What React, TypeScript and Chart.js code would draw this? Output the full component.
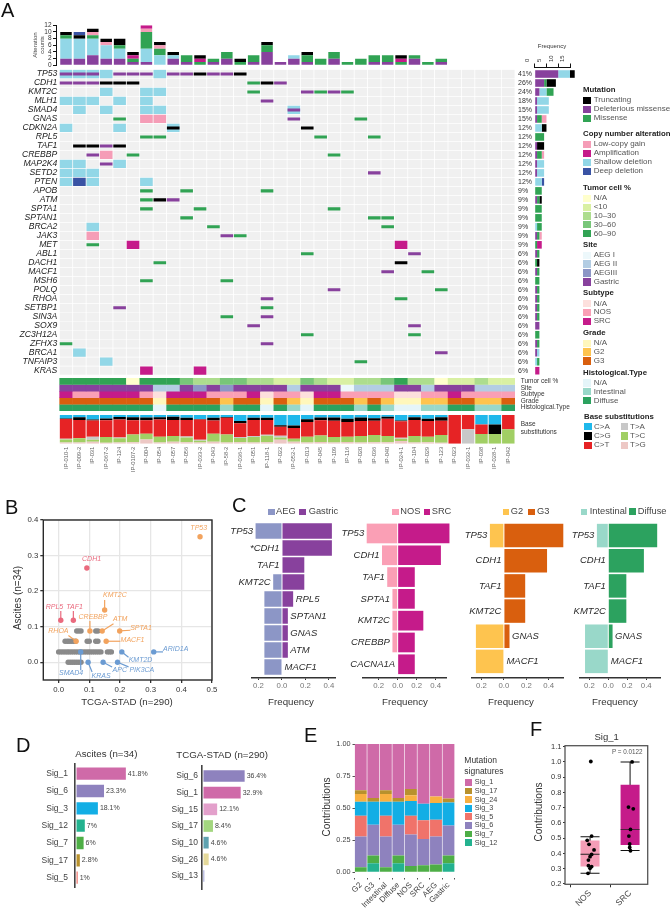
import React, { useEffect, useRef } from "react";
import { Chart, registerables } from "chart.js";

Chart.register(...registerables);

const SANS = '"Liberation Sans", Arial, sans-serif';
Chart.defaults.font.family = SANS;

/* ---------- Panel A data ---------- */
const SAMPLES = ["IP-010-1","IP-009-2","IP-031","IP-067-2","IP-124","IP-0107-2","IP-004","IP-054","IP-057","IP-056","IP-033-2","IP-043","IP-58-2","IP-036-1","IP-051","IP-118-1","IP-022","IP-052-1","IP-013","IP-045","IP-109","IP-116","IP-020","IP-036","IP-040","IP-024-1","IP-104","IP-029","IP-123","IP-023","IP-032-1","IP-038","IP-028-1","IP-042"];
const GENES = ["TP53","CDH1","KMT2C","MLH1","SMAD4","GNAS","CDKN2A","RPL5","TAF1","CREBBP","MAP2K4","SETD2","PTEN","APOB","ATM","SPTA1","SPTAN1","BRCA2","JAK3","MET","ABL1","DACH1","MACF1","MSH6","POLQ","RHOA","SETBP1","SIN3A","SOX9","ZC3H12A","ZFHX3","BRCA1","TNFAIP3","KRAS"];
const GENE_PCT = ["41%","26%","24%","18%","15%","15%","12%","12%","12%","12%","12%","12%","12%","9%","9%","9%","9%","9%","9%","9%","6%","6%","6%","6%","6%","6%","6%","6%","6%","6%","6%","6%","6%","6%"];

const TRUNCATING: Record<string, number[]> = { TP53:[10,13], CDH1:[3,4,5,15], CDKN2A:[8,18], TAF1:[1,2,4], ATM:[7], DACH1:[25] };
const DELETERIOUS: Record<string, number[]> = { TP53:[0,1,2,4,5,6,8,9,11,12], CDH1:[0,1,2,16], KMT2C:[18,20], MLH1:[15], SMAD4:[17], GNAS:[17], TAF1:[3], CREBBP:[2], MAP2K4:[3], SETD2:[23], ATM:[8], JAK3:[12], ABL1:[26], MACF1:[24], POLQ:[20], RHOA:[15], SETBP1:[4], SIN3A:[15], SOX9:[14,26], ZFHX3:[15], BRCA1:[28] };
const MISSENSE: Record<string, number[]> = { CDH1:[14], KMT2C:[14,19,21], GNAS:[4,22], RPL5:[6,7,19,23], CREBBP:[5,20], APOB:[6,9,15], ATM:[6], SPTA1:[6,10,20], SPTAN1:[9,23,24], BRCA2:[11,24], JAK3:[13], MET:[2], ABL1:[18], DACH1:[7], MACF1:[27], MSH6:[6,12], POLQ:[28], RHOA:[25], SETBP1:[15], SIN3A:[12], ZC3H12A:[18,26], ZFHX3:[0], TNFAIP3:[22] };
const SHALLOW: Record<string, number[]> = { TP53:[0,1,2,3,7], KMT2C:[3,6,7], MLH1:[0,1,2,4,6], SMAD4:[1,3,6,7,17], CDKN2A:[0,4,8], MAP2K4:[0,1,4], SETD2:[0,1,2], PTEN:[0,2,6], BRCA2:[2], BRCA1:[1], TNFAIP3:[3] };
const DEEP: Record<string, number[]> = { PTEN:[1] };
const LOW_GAIN: Record<string, number[]> = { GNAS:[6,7], CREBBP:[3], JAK3:[2] };
const AMPLIFICATION: Record<string, number[]> = { MET:[5,25], KRAS:[6,10] };

const TOP_DELETERIOUS = [2,2,3,2,2,1,1,0,2,1,0,1,2,0,1,4,1,2,1,0,2,0,0,1,1,0,2,0,1,0,0,0,0,0];
const TOP_SHALLOW = [6,6,5,4,3,0,4,3,1,0,0,0,0,0,0,0,0,1,0,0,0,0,0,0,0,0,0,0,0,0,0,0,0,0];
const TOP_MISSENSE = [1,0,1,0,1,1,5,2,0,2,1,1,2,1,2,2,0,0,2,2,2,1,2,2,2,1,1,1,1,0,0,0,0,0];
const TOP_LOW = [0,0,1,1,0,0,1,1,0,0,0,0,0,0,0,0,0,0,0,0,0,0,0,0,0,0,0,0,0,0,0,0,0,0];
const TOP_AMP = [0,0,0,0,0,1,1,0,0,0,1,0,0,0,0,0,0,0,0,0,0,0,0,0,0,1,0,0,0,0,0,0,0,0];
const TOP_TRUNC = [1,1,1,1,2,1,0,1,1,0,1,0,0,1,0,1,0,0,1,0,0,0,0,0,0,1,0,0,0,0,0,0,0,0];
const TOP_DEEP = [0,1,0,0,0,0,0,0,0,0,0,0,0,0,0,0,0,0,0,0,0,0,0,0,0,0,0,0,0,0,0,0,0,0];

const TRACK_NAMES = ["Tumor cell %","Site","Subtype","Grade","Histological.Type"];
const TUMOR = [4,4,4,4,4,0,4,4,4,3,2,2,3,3,2,2,1,1,3,2,1,1,2,2,3,4,2,2,0,1,1,2,1,1];
const SITE = [3,3,3,3,3,3,3,1,1,3,2,3,2,3,3,3,3,1,3,3,3,0,1,1,1,3,3,1,3,3,3,1,1,1];
const SUBTYPE = [2,1,1,2,2,2,1,0,2,2,2,1,1,1,2,0,1,1,0,2,2,1,1,1,1,0,0,1,1,2,1,1,1,1];
const GRADE = [2,2,2,2,2,2,2,0,2,2,2,2,1,2,2,0,2,1,0,2,2,2,1,2,1,0,0,1,1,2,2,1,1,2];
const HIST = [2,2,2,2,2,2,2,0,2,2,2,2,1,2,2,0,2,1,0,2,2,2,1,2,1,0,0,1,1,2,2,1,1,2];

const SUB_CA = [12,8,16,12,7,8,9,8,6,10,14,10,7,21,10,10,36,37,15,9,9,13,9,11,6,19,8,13,8,0,0,33,33,0];
const SUB_CG = [2,9,3,6,9,10,9,8,11,7,2,9,3,8,7,7,5,8,9,9,11,11,12,9,7,3,9,8,12,0,0,0,33,0];
const SUB_CT = [69,64,57,59,62,50,47,60,56,58,70,46,58,48,56,52,31,38,52,53,57,52,52,50,60,57,56,55,50,100,50,33,0,50];
const SUB_TA = [2,0,10,0,3,0,0,0,0,3,4,0,0,3,4,3,6,0,0,0,0,0,0,0,0,4,0,0,0,0,50,0,0,0];
const SUB_TC = [11,15,7,20,15,27,20,20,20,17,6,28,28,15,19,23,8,10,20,23,19,18,23,25,22,8,23,19,27,0,0,34,34,50];
const SUB_TG = [4,4,7,3,4,5,15,4,7,5,4,7,4,5,4,5,14,7,4,6,4,6,4,5,5,9,4,5,3,0,0,0,0,0];

/* ---------- Panel B data ---------- */
const GRAY_X = [0.059,0.066,0.073,0.121,0.128,0.021,0.028,0.034,0.041,0.048,0.055,0.093,0.1,0.121,0.128,0,0.007,0.014,0.021,0.028,0.034,0.041,0.048,0.055,0.062,0.069,0.076,0.083,0.09,0.097,0.103,0.11,0.117,0.124,0.131,0.138,0.159,0.166,0.172,0.031,0.038,0.045,0.052,0.059,0.066,0.073];
const GRAY_Y = [0.088,0.088,0.088,0.088,0.088,0.059,0.059,0.059,0.059,0.059,0.059,0.059,0.059,0.059,0.059,0.029,0.029,0.029,0.029,0.029,0.029,0.029,0.029,0.029,0.029,0.029,0.029,0.029,0.029,0.029,0.029,0.029,0.029,0.029,0.029,0.029,0.029,0.029,0.029,0,0,0,0,0,0,0];
const ORANGE_NAMES = ["TP53","KMT2C","CREBBP","ATM","SPTA1","RHOA","MACF1"];
const ORANGE_X = [0.461,0.15,0.102,0.142,0.199,0.057,0.155];
const ORANGE_Y = [0.353,0.147,0.088,0.088,0.088,0.059,0.059];
const PINK_NAMES = ["CDH1","RPL5","TAF1"];
const PINK_X = [0.092,0.007,0.048];
const PINK_Y = [0.265,0.118,0.118];
const BLUE_NAMES = ["ARID1A","KMT2D","SMAD4","KRAS","APC","PIK3CA"];
const BLUE_X = [0.31,0.206,0.072,0.096,0.145,0.192];
const BLUE_Y = [0.029,0.029,0.029,0,0,0];
// label placement, px from the point: text dx, text dy, leader dx, leader dy
const LABEL_OFFSETS: Record<string, number[]> = {
  TP53:[-1.3,-9,0,0], CDH1:[4.7,-8.7,0,0], KMT2C:[10.3,-14.7,0,-10], RPL5:[-6.3,-13.3,0,-9.3], TAF1:[1.3,-13.3,0,-9.3],
  CREBBP:[3,-14,0,-10], ATM:[18,-11.7,11.3,-7.3], SPTA1:[21.3,-3,10.7,-0.7], RHOA:[-17.7,-10,-7.7,-5.7], MACF1:[26.3,-1,14,0],
  ARID1A:[22,-2.7,9.3,0], KMT2D:[18.7,8,6.7,5.3], SMAD4:[-9.7,21,0,18.3], KRAS:[13,13.7,4,9.7], APC:[16.7,7.7,9,4.7], PIK3CA:[24.3,7.7,11,4.7],
};

/* ---------- Panel C data ---------- */
const C1_GENES = ["TP53","*CDH1","TAF1","KMT2C","RPL5","SPTAN1","GNAS","ATM","MACF1"];
const C1_AEG = [-0.225,0,0,-0.075,-0.15,-0.15,-0.15,-0.15,-0.15];
const C1_GASTRIC = [0.425,0.425,0.19,0.19,0.095,0.05,0.05,0.05,0];
const C1_SIDES = ["L","L","L","L","R","R","R","R","R"];
const C2_GENES = ["TP53","CDH1","TAF1","SPTA1","KMT2C","CREBBP","CACNA1A"];
const C2_NOS = [-0.326,-0.165,-0.11,-0.055,-0.055,-0.055,0];
const C2_SRC = [0.545,0.455,0.18,0.18,0.27,0.18,0.18];
const C2_SIDES = ["L","L","L","L","L","L","L"];
const C3_GENES = ["TP53","CDH1","TAF1","KMT2C","GNAS","MACF1"];
const C3_G2 = [-0.125,0,0,0,-0.25,-0.25];
const C3_G3 = [0.53,0.385,0.19,0.19,0.05,0];
const C3_SIDES = ["L","L","L","L","R","R"];
const C4_GENES = ["TP53","CDH1","TAF1","KMT2C","GNAS","MACF1"];
const C4_INTESTINAL = [-0.12,0,0,0,-0.245,-0.245];
const C4_DIFFUSE = [0.515,0.375,0.19,0.19,0.045,0];
const C4_SIDES = ["L","L","L","L","R","R"];

/* ---------- Panel D data ---------- */
const D1_SIGS = ["Sig_1","Sig_6","Sig_3","Sig_12","Sig_7","Sig_17","Sig_5"];
const D1_VALUES = [41.8,23.3,18.1,7,6,2.8,1];
const D1_TEXT = ["41.8%","23.3%","18.1%","7%","6%","2.8%","1%"];
const D2_SIGS = ["Sig_6","Sig_1","Sig_15","Sig_17","Sig_10","Sig_26","Sig_13"];
const D2_VALUES = [36.4,32.9,12.1,8.4,4.6,4.6,0.7];
const D2_TEXT = ["36.4%","32.9%","12.1%","8.4%","4.6%","4.6%",""];

/* ---------- Panel E data ---------- */
const E_GROUPS = ["G2","G3","Intestinal","Diffuse","NOS","SRC","AEG","Gastric"];
const E_SIG_12 = [0,0.07,0,0.07,0,0,0,0.07];
const E_SIG_7 = [0.04,0.06,0.04,0.06,0.05,0.055,0.06,0.06];
const E_SIG_6 = [0.24,0.24,0.24,0.24,0.245,0.205,0.22,0.235];
const E_SIG_5 = [0.16,0,0.16,0,0.145,0.145,0.13,0];
const E_SIG_3 = [0.11,0.18,0.11,0.18,0.115,0.13,0.13,0.18];
const E_SIG_24 = [0.06,0,0.06,0,0.045,0,0.05,0];
const E_SIG_17 = [0.03,0.03,0.03,0.03,0.05,0,0,0.03];
const E_SIG_1 = [0.36,0.42,0.36,0.42,0.35,0.465,0.41,0.425];

/* ---------- Panel F data ---------- */
const F_GROUPS = ["NOS","SRC"];
const F_BOX = [[0.315,0.485],[0.455,0.85]];
const F_WHISKER = [[0.27,0.51],[0.42,1.0]];
const F_MEDIAN = [0.395,0.558];
const F_NOS_X = [1.04,0.93,0.975,1.1,1.04,1.0,0.96,0.96,1.04,1.0,0.95,1.02];
const F_NOS_Y = [0.514,0.486,0.46,0.423,0.394,0.379,0.357,0.32,0.314,0.303,0.27,1.003];
const F_SRC_X = [2.05,1.96,2.08,2.01,1.97,1.99,1.99,2.01];
const F_SRC_Y = [1.0,0.704,0.693,0.558,0.514,0.462,0.44,0.418];

/* ---------- Colours ---------- */
const COL = { trunc:"#000000", del:"#88419d", mis:"#31a354", low:"#f59db7", amp:"#c51b8a", shallow:"#92d7e7", deep:"#3953a4" };
const TUMOR_COLORS = ["#ffffcc","#d9f0a3","#addd8e","#78c679","#31a354"];
const SITE_COLORS = ["#edf8fb","#b3cde3","#8c96c6","#88419d"];
const SUBTYPE_COLORS = ["#fde0dd","#fa9fb5","#c51b8a"];
const GRADE_COLORS = ["#fff7bc","#fec44f","#d95f0e"];
const HIST_COLORS = ["#e5f5f9","#99d8c9","#2ca25f"];
const SUB_COLORS = { ca:"#1fb8eb", cg:"#000000", ct:"#e62325", ta:"#c8c8c8", tc:"#a1cf64", tg:"#edc8c5" };
const SIG = { s1:"#cf6aa8", s6:"#8e82be", s3:"#12aee5", s12:"#23b28f", s7:"#4eae46", s17:"#b8912d", s5:"#f0736a", s24:"#f9b040", s15:"#e3a0cb", s17b:"#a3d67f", s10:"#5fa2b0", s26:"#e5d99a", s13:"#8a8fcc" };

/* ---------- Helpers ---------- */
// the chart area is given in page pixels; l/r/t/b are the room kept for the axes on each side
const frame = (x0: number, y0: number, x1: number, y1: number, m: { l?: number; r?: number; t?: number; b?: number } = {}) => ({
  padding: { left: x0 - (m.l || 0), top: y0 - (m.t || 0), right: 670 - x1 - (m.r || 0), bottom: 912 - y1 - (m.b || 0) },
});
const fit = (size: number) => (s: any) => { if (s.isHorizontal()) s.height = size; else s.width = size; };
const fixedTicks = (vals: number[]) => (s: any) => { s.ticks = vals.map((value) => ({ value })); };
const baseOpts = (layout: any, scales: any) => ({
  responsive: false, animation: false as const, events: [] as any[], layout, scales,
  plugins: { legend: { display: false }, tooltip: { enabled: false } },
});
const NO_GRID = { display: false, drawTicks: false };
const COL_IDX = SAMPLES.map((_, i) => i);
const ROW_IDX = GENES.map((_, i) => i);
const cells = (o: Record<string, number[]>) => Object.keys(o).flatMap((g) => o[g].map((c) => ({ y: g, x: [c + 0.03, c + 0.97] })));
const tally = (o: Record<string, number[]>) => GENES.map((g) => (o[g] ? o[g].length : 0));

const framePlugin = (color: string, w: number) => ({
  id: "frame",
  afterDatasetsDraw(c: any) {
    const { left, right, top, bottom } = c.chartArea;
    c.ctx.save(); c.ctx.strokeStyle = color; c.ctx.lineWidth = w;
    c.ctx.strokeRect(left, top, right - left, bottom - top); c.ctx.restore();
  },
});

const geneLabelPlugin = (genes: string[], sides: string[], neg: number[], pos: number[]) => ({
  id: "geneLabels",
  afterDatasetsDraw(c: any) {
    const { ctx } = c; const x = c.scales.x; const y = c.scales.y;
    ctx.save(); ctx.font = `italic 9.5px ${SANS}`; ctx.fillStyle = "#2b2b2b"; ctx.textBaseline = "middle";
    genes.forEach((g, i) => {
      const left = sides[i] === "L";
      ctx.textAlign = left ? "right" : "left";
      ctx.fillText(g, x.getPixelForValue(left ? neg[i] : pos[i]) + (left ? -2.5 : 2.5), y.getPixelForValue(i));
    });
    ctx.restore();
  },
});

const valueLabelPlugin = (vals: number[], texts: string[]) => ({
  id: "valueLabels",
  afterDatasetsDraw(c: any) {
    const { ctx } = c; ctx.save(); ctx.font = `7px ${SANS}`; ctx.fillStyle = "#444"; ctx.textBaseline = "middle"; ctx.textAlign = "left";
    texts.forEach((t, i) => ctx.fillText(t, c.scales.x.getPixelForValue(vals[i]) + 2, c.scales.y.getPixelForValue(i)));
    ctx.restore();
  },
});

const scatterLabelPlugin = (groups: { names: string[]; xs: number[]; ys: number[]; color: string }[]) => ({
  id: "scatterLabels",
  afterDatasetsDraw(c: any) {
    const { ctx } = c; ctx.save(); ctx.font = `italic 7px ${SANS}`; ctx.textAlign = "center"; ctx.textBaseline = "middle";
    groups.forEach((g) => g.names.forEach((n, i) => {
      const px = c.scales.x.getPixelForValue(g.xs[i]); const py = c.scales.y.getPixelForValue(g.ys[i]);
      const [tx, ty, lx, ly] = LABEL_OFFSETS[n];
      ctx.strokeStyle = g.color; ctx.fillStyle = g.color; ctx.lineWidth = 1.2;
      if (lx || ly) { ctx.beginPath(); ctx.moveTo(px, py); ctx.lineTo(px + lx, py + ly); ctx.stroke(); }
      ctx.fillText(n, px + tx, py + ty);
    }));
    ctx.restore();
  },
});

/* ---------- Charts ---------- */
function oncoprint() {
  const bg = GENES.flatMap((g) => COL_IDX.map((c) => ({ y: g, x: [c + 0.03, c + 0.97] })));
  const ds = (data: any[], color: string, order: number, bp: number) => ({ data, backgroundColor: color, order, barPercentage: bp, categoryPercentage: 1, grouped: false, inflateAmount: 0, borderWidth: 0 });
  return {
    type: "bar",
    data: { labels: GENES, datasets: [
      ds(cells(TRUNCATING), COL.trunc, 1, 0.34), ds(cells(DELETERIOUS), COL.del, 1, 0.34), ds(cells(MISSENSE), COL.mis, 1, 0.34),
      ds(cells(LOW_GAIN), COL.low, 2, 0.92), ds(cells(AMPLIFICATION), COL.amp, 2, 0.92), ds(cells(SHALLOW), COL.shallow, 2, 0.92), ds(cells(DEEP), COL.deep, 2, 0.92),
      ds(bg, "#f0f0f0", 3, 0.92),
    ] },
    options: { indexAxis: "y", ...baseOpts(frame(59.3, 69.5, 515, 375.2, { l: 55, r: 30 }), {
      x: { type: "linear", min: 0, max: 34, display: false },
      y: { type: "category", offset: true, afterFit: fit(55), border: { display: false }, grid: NO_GRID,
        ticks: { autoSkip: false, padding: 2, color: "#222", font: { size: 8.6, style: "italic", family: SANS } } },
      yR: { type: "category", labels: GENE_PCT, position: "right", offset: true, afterFit: fit(30), border: { display: false }, grid: NO_GRID,
        ticks: { autoSkip: false, padding: 3, color: "#333", font: { size: 7, family: SANS } } },
    }) },
  };
}

function topBars() {
  const ds = (data: number[], color: string) => ({ data, backgroundColor: color, barThickness: 11.5, inflateAmount: 0 });
  return {
    type: "bar",
    data: { labels: COL_IDX, datasets: [ds(TOP_DELETERIOUS, COL.del), ds(TOP_SHALLOW, COL.shallow), ds(TOP_MISSENSE, COL.mis), ds(TOP_LOW, COL.low), ds(TOP_AMP, COL.amp), ds(TOP_TRUNC, COL.trunc), ds(TOP_DEEP, COL.deep)] },
    options: baseOpts(frame(56, 25.3, 515, 65.3, { l: 20 }), {
      x: { type: "linear", offset: false, min: -0.746, max: 33.5, stacked: true, display: false },
      y: { type: "linear", min: 0, max: 12, stacked: true, afterFit: fit(20), afterBuildTicks: fixedTicks([0,2,4,6,8,10,12]),
        border: { display: true, color: "#111", width: 1 }, grid: { drawOnChartArea: false, tickLength: 3, color: "#111" },
        ticks: { autoSkip: false, padding: 1.5, color: "#333", font: { size: 6.5, family: SANS } } },
    }),
  };
}

function freqBars() {
  const ds = (o: Record<string, number[]>, color: string) => ({ data: tally(o), backgroundColor: color, barThickness: 7.6, clip: false, inflateAmount: 0 });
  return {
    type: "bar",
    data: { labels: ROW_IDX, datasets: [ds(DELETERIOUS, COL.del), ds(SHALLOW, COL.shallow), ds(DEEP, COL.deep), ds(MISSENSE, COL.mis), ds(LOW_GAIN, COL.low), ds(AMPLIFICATION, COL.amp), ds(TRUNCATING, COL.trunc)] },
    options: { indexAxis: "y", ...baseOpts(frame(534.7, 67.5, 570, 375.2, { t: 20 }), {
      x: { type: "linear", position: "top", min: 0, max: 15, stacked: true, afterFit: fit(20), afterBuildTicks: fixedTicks([0,5,10,15]),
        border: { display: true, color: "#111", width: 1 }, grid: { drawOnChartArea: false, tickLength: 4, color: "#111" },
        ticks: { autoSkip: false, padding: 1.5, minRotation: 90, maxRotation: 90, color: "#333", font: { size: 6, family: SANS } } },
      y: { type: "linear", offset: false, reverse: true, min: -0.725, max: 33.5, stacked: true, display: false },
    }) },
  };
}

function tracks() {
  const ds = (g: string, vals: number[], pal: string[]) => ({
    data: vals.map((v, c) => ({ y: g, x: [c, c + 1] })), backgroundColor: vals.map((v) => pal[v]),
    barPercentage: 1, categoryPercentage: 1, grouped: false, inflateAmount: 0.2,
  });
  return {
    type: "bar",
    data: { labels: TRACK_NAMES, datasets: [ds(TRACK_NAMES[0], TUMOR, TUMOR_COLORS), ds(TRACK_NAMES[1], SITE, SITE_COLORS), ds(TRACK_NAMES[2], SUBTYPE, SUBTYPE_COLORS), ds(TRACK_NAMES[3], GRADE, GRADE_COLORS), ds(TRACK_NAMES[4], HIST, HIST_COLORS)] },
    options: { indexAxis: "y", ...baseOpts(frame(59.3, 378, 515, 411, { r: 66 }), {
      x: { type: "linear", min: 0, max: 34, display: false },
      y: { type: "category", position: "right", offset: true, afterFit: fit(66), border: { display: false }, grid: NO_GRID,
        ticks: { autoSkip: false, padding: 5.7, color: "#333", font: { size: 6.5, family: SANS } } },
    }) },
  };
}

function baseSubs() {
  const ds = (data: number[], color: string) => ({ data, backgroundColor: color, barPercentage: 0.93, categoryPercentage: 1, inflateAmount: 0 });
  return {
    type: "bar",
    data: { labels: SAMPLES, datasets: [ds(SUB_TG, SUB_COLORS.tg), ds(SUB_TC, SUB_COLORS.tc), ds(SUB_TA, SUB_COLORS.ta), ds(SUB_CT, SUB_COLORS.ct), ds(SUB_CG, SUB_COLORS.cg), ds(SUB_CA, SUB_COLORS.ca)] },
    options: baseOpts(frame(59.3, 415, 515, 443.7, { b: 40 }), {
      x: { type: "category", offset: true, stacked: true, afterFit: fit(40), border: { display: false }, grid: NO_GRID,
        ticks: { autoSkip: false, padding: 3, minRotation: 90, maxRotation: 90, color: "#666", font: { size: 5.8, family: SANS } } },
      y: { type: "linear", min: 0, max: 100, stacked: true, display: false },
    }),
  };
}

function scatterB() {
  const ds = (xs: number[], ys: number[], color: string, order: number) => ({
    data: xs.map((x, i) => ({ x, y: ys[i] })), backgroundColor: color, pointRadius: 2.7, pointBorderWidth: 0, order,
  });
  const grid = { color: "#e6e6e6", lineWidth: 1.3, tickLength: 3, tickColor: "#333" };
  return {
    type: "scatter",
    data: { datasets: [ds(ORANGE_X, ORANGE_Y, "#f2a35e", 0), ds(PINK_X, PINK_Y, "#ea6a7e", 0), ds(BLUE_X, BLUE_Y, "#6b9bd2", 0), ds(GRAY_X, GRAY_Y, "#8a8a8a", 2)] },
    options: baseOpts(frame(43.3, 520, 212, 680, { l: 26, b: 16 }), {
      x: { type: "linear", min: -0.05, max: 0.5, afterFit: fit(16), afterBuildTicks: fixedTicks([0,0.1,0.2,0.3,0.4,0.5]), grid, border: { display: false },
        ticks: { autoSkip: false, padding: 2, minRotation: 0, maxRotation: 0, color: "#333", font: { size: 7.8, family: SANS }, callback: (v: number) => v.toFixed(1) } },
      y: { type: "linear", min: -0.05, max: 0.4, afterFit: fit(26), afterBuildTicks: fixedTicks([0,0.1,0.2,0.3,0.4]), grid, border: { display: false },
        ticks: { autoSkip: false, padding: 2, color: "#333", font: { size: 7.8, family: SANS }, callback: (v: number) => v.toFixed(1) } },
    }),
    plugins: [framePlugin("#2a2a2a", 1.4), scatterLabelPlugin([
      { names: ORANGE_NAMES, xs: ORANGE_X, ys: ORANGE_Y, color: "#f2a35e" },
      { names: PINK_NAMES, xs: PINK_X, ys: PINK_Y, color: "#ea6a7e" },
      { names: BLUE_NAMES, xs: BLUE_X, ys: BLUE_Y, color: "#6b9bd2" },
    ])],
  };
}

function diverging(x0: number, x1: number, xMin: number, xMax: number, yMin: number, yMax: number, thick: number, genes: string[], sides: string[], neg: number[], pos: number[], cNeg: string, cPos: string) {
  return {
    type: "bar",
    data: { labels: genes.map((_, i) => i), datasets: [
      { data: neg, backgroundColor: cNeg, barThickness: thick, inflateAmount: 0, clip: false },
      { data: pos, backgroundColor: cPos, barThickness: thick, inflateAmount: 0, clip: false },
    ] },
    options: { indexAxis: "y", ...baseOpts(frame(x0, 523, x1, 678, { b: 16 }), {
      x: { type: "linear", min: xMin, max: xMax, stacked: true, afterFit: fit(16), afterBuildTicks: fixedTicks([-0.2,0,0.2,0.4]),
        border: { display: true, color: "#333", width: 1.5 }, grid: { drawOnChartArea: false, tickLength: 2, color: "#333" },
        ticks: { autoSkip: false, padding: 1.5, minRotation: 0, maxRotation: 0, color: "#777", font: { size: 7.8, family: SANS }, callback: (v: number) => Math.abs(v).toFixed(1) } },
      y: { type: "linear", offset: false, reverse: true, min: yMin, max: yMax, stacked: true, display: false },
    }) },
    plugins: [geneLabelPlugin(genes, sides, neg, pos)],
  };
}

function sigBars(x0: number, x1: number, y0: number, y1: number, xMin: number, xMax: number, yMin: number, yMax: number, thick: number, pad: number, names: string[], vals: number[], texts: string[], colors: string[]) {
  return {
    type: "bar",
    data: { labels: names.map((_, i) => i), datasets: [{ data: vals, backgroundColor: colors, barThickness: thick, inflateAmount: 0 }] },
    options: { indexAxis: "y", ...baseOpts(frame(x0, y0, x1, y1, { l: 36 }), {
      x: { type: "linear", min: xMin, max: xMax, display: false },
      y: { type: "linear", offset: false, reverse: true, min: yMin, max: yMax, afterFit: fit(36), afterBuildTicks: fixedTicks(names.map((_, i) => i)),
        border: { display: true, color: "#444", width: 1.6 }, grid: NO_GRID,
        ticks: { autoSkip: false, padding: pad, color: "#444", font: { size: 8.5, family: SANS }, callback: (v: number) => names[v] } },
    }) },
    plugins: [valueLabelPlugin(vals, texts)],
  };
}

function stackE() {
  const ds = (data: number[], color: string) => ({ data, backgroundColor: color, barPercentage: 0.95, categoryPercentage: 1, inflateAmount: 0 });
  return {
    type: "bar",
    data: { labels: E_GROUPS, datasets: [ds(E_SIG_12, SIG.s12), ds(E_SIG_7, SIG.s7), ds(E_SIG_6, SIG.s6), ds(E_SIG_5, SIG.s5), ds(E_SIG_3, SIG.s3), ds(E_SIG_24, SIG.s24), ds(E_SIG_17, SIG.s17), ds(E_SIG_1, SIG.s1)] },
    options: baseOpts(frame(354.5, 744, 454.8, 877.5, { l: 22, b: 34 }), {
      x: { type: "category", offset: true, stacked: true, afterFit: fit(34), border: { display: false }, grid: { drawOnChartArea: false, tickLength: 2, color: "#555" },
        ticks: { autoSkip: false, padding: 1, minRotation: 45, maxRotation: 45, color: "#444", font: { size: 8, family: SANS } } },
      y: { type: "linear", min: -0.0405, max: 1, stacked: true, afterFit: fit(22), afterBuildTicks: fixedTicks([0,0.25,0.5,0.75,1]), border: { display: false }, grid: { drawOnChartArea: false, tickLength: 2, color: "#555" },
        ticks: { autoSkip: false, padding: 2, color: "#444", font: { size: 7.3, family: SANS }, callback: (v: number) => v.toFixed(2) } },
    }),
  };
}

function boxF() {
  const bar = (data: any[], color: string, thick: number, order: number) => ({ data, backgroundColor: color, barThickness: thick, order, grouped: false, inflateAmount: 0 });
  const w = 0.003;
  return {
    type: "bar",
    data: { labels: [1, 2], datasets: [
      { type: "scatter", data: F_NOS_X.map((x, i) => ({ x, y: F_NOS_Y[i] })), backgroundColor: "#000", pointRadius: 1.9, pointBorderWidth: 0, order: 0 },
      { type: "scatter", data: F_SRC_X.map((x, i) => ({ x, y: F_SRC_Y[i] })), backgroundColor: "#000", pointRadius: 1.9, pointBorderWidth: 0, order: 0 },
      bar(F_MEDIAN.map((m) => [m - w, m + w]), "#222", 19, 1),
      bar(F_WHISKER.map((v) => [v[0] - w, v[0] + w]), "#111", 19, 2),
      bar(F_WHISKER.map((v) => [v[1] - w, v[1] + w]), "#111", 19, 2),
      { ...bar(F_BOX, "#f59db7", 19, 3), backgroundColor: ["#f59db7", "#c51b8a"] },
      bar(F_WHISKER, "#111", 1, 4),
    ] },
    options: baseOpts(frame(565, 745.7, 647.7, 884.3, { l: 18, b: 28 }), {
      x: { type: "linear", offset: false, min: 0.375, max: 2.44, afterFit: fit(28), afterBuildTicks: fixedTicks([1,2]), border: { display: false }, grid: { drawOnChartArea: false, tickLength: 3, color: "#333" },
        ticks: { autoSkip: false, padding: 1, minRotation: 45, maxRotation: 45, color: "#444", font: { size: 8.5, family: SANS }, callback: (v: number) => F_GROUPS[v - 1] } },
      y: { type: "linear", min: 0.198, max: 1.1065, afterFit: fit(18), afterBuildTicks: fixedTicks([0.2,0.3,0.4,0.5,0.6,0.7,0.8,0.9,1.0,1.1]), border: { display: false }, grid: { drawOnChartArea: false, tickLength: 2, color: "#333" },
        ticks: { autoSkip: false, padding: 1.5, color: "#333", font: { size: 7.5, family: SANS }, callback: (v: number) => v.toFixed(1) } },
    }),
    plugins: [framePlugin("#555", 1.3)],
  };
}

const CONFIGS: (() => any)[] = [
  oncoprint, topBars, freqBars, tracks, baseSubs, scatterB,
  () => diverging(251.7, 336, -0.258, 0.46, -0.47, 8.647, 15.5, C1_GENES, C1_SIDES, C1_AEG, C1_GASTRIC, "#8c96c6", "#88419d"),
  () => diverging(362.7, 446.7, -0.368, 0.516, -0.48, 6.63, 19.7, C2_GENES, C2_SIDES, C2_NOS, C2_SRC, "#fa9fb5", "#c51b8a"),
  () => diverging(471.3, 563.3, -0.291, 0.53, -0.5, 5.66, 23.5, C3_GENES, C3_SIDES, C3_G2, C3_G3, "#fec44f", "#d95f0e"),
  () => diverging(580, 660.7, -0.298, 0.552, -0.5, 5.66, 23.5, C4_GENES, C4_SIDES, C4_INTESTINAL, C4_DIFFUSE, "#99d8c9", "#2ca25f"),
  () => sigBars(75, 140, 763.3, 887.7, -1.3, 53.8, -0.6, 6.58, 12.3, 7, D1_SIGS, D1_VALUES, D1_TEXT, [SIG.s1, SIG.s6, SIG.s3, SIG.s12, SIG.s7, SIG.s17, SIG.s5]),
  () => sigBars(202, 290, 766, 889, -1.3, 76.5, -0.6, 6.78, 11.7, 4, D2_SIGS, D2_VALUES, D2_TEXT, [SIG.s6, SIG.s1, SIG.s15, SIG.s17b, SIG.s10, SIG.s26, SIG.s13]),
  stackE, boxF,
];

/* ---------- Text and legends ---------- */
type TProps = { x: number; y: number; s: number; t: string; c?: string; b?: boolean; i?: boolean; r?: number; mid?: boolean };
function T({ x, y, s, t, c = "#333", b, i, r, mid }: TProps) {
  return (
    <span style={{ position: "absolute", left: x, top: y, fontFamily: SANS, fontSize: s, color: c, fontWeight: b ? 700 : 400, fontStyle: i ? "italic" : "normal", whiteSpace: "nowrap", lineHeight: 1, transform: `translate(${mid ? "-50%" : "0"},-50%)${r ? ` rotate(${r}deg)` : ""}` }}>{t}</span>
  );
}
function Sq({ x, y, s = 7.3, c }: { x: number; y: number; s?: number; c: string }) {
  return <div style={{ position: "absolute", left: x, top: y - s / 2, width: s, height: s, background: c }} />;
}

const LEGEND_A: [string, number, [string, string, number][]][] = [
  ["Mutation", 89.7, [["Truncating", COL.trunc, 100.3], ["Deleterious missense", COL.del, 109.3], ["Missense", COL.mis, 118.3]]],
  ["Copy number alteration", 134, [["Low-copy gain", COL.low, 144.3], ["Amplification", COL.amp, 153.3], ["Shallow deletion", COL.shallow, 162.3], ["Deep deletion", COL.deep, 171.3]]],
  ["Tumor cell %", 188, [["N/A", TUMOR_COLORS[0], 198.3], ["<10", TUMOR_COLORS[1], 207.3], ["10–30", TUMOR_COLORS[2], 216], ["30–60", TUMOR_COLORS[3], 224.7], ["60–90", TUMOR_COLORS[4], 233.7]]],
  ["Site", 245, [["AEG I", SITE_COLORS[0], 255.3], ["AEG II", SITE_COLORS[1], 264], ["AEGIII", SITE_COLORS[2], 273], ["Gastric", SITE_COLORS[3], 282]]],
  ["Subtype", 293.3, [["N/A", SUBTYPE_COLORS[0], 303.7], ["NOS", SUBTYPE_COLORS[1], 312.3], ["SRC", SUBTYPE_COLORS[2], 321.3]]],
  ["Grade", 333, [["N/A", GRADE_COLORS[0], 343.3], ["G2", GRADE_COLORS[1], 352], ["G3", GRADE_COLORS[2], 361]]],
  ["Histological.Type", 372.7, [["N/A", HIST_COLORS[0], 383], ["Intestinal", HIST_COLORS[1], 391.7], ["Diffuse", HIST_COLORS[2], 400.7]]],
];
const LEGEND_SUBS: [string, string, number, number, number][] = [
  ["C>A", SUB_COLORS.ca, 584.3, 594, 426.7], ["C>G", SUB_COLORS.cg, 584.3, 594, 436], ["C>T", SUB_COLORS.ct, 584.3, 594, 445.3],
  ["T>A", SUB_COLORS.ta, 620.7, 630, 426.7], ["T>C", SUB_COLORS.tc, 620.7, 630, 436], ["T>G", SUB_COLORS.tg, 620.7, 630, 445.3],
];
const LEGEND_C: [string, string, number, number, number][] = [
  ["AEG", "#8c96c6", 268, 276, 512], ["Gastric", "#88419d", 299.3, 308.7, 512],
  ["NOS", "#fa9fb5", 392.3, 400.3, 512], ["SRC", "#c51b8a", 423.7, 431.7, 512],
  ["G2", "#fec44f", 502.7, 510.7, 512], ["G3", "#d95f0e", 528.3, 537, 512],
  ["Intestinal", "#99d8c9", 580.7, 589.7, 512], ["Diffuse", "#2ca25f", 629.3, 637.7, 511.7],
];
const LEGEND_E: [string, string][] = [["Sig_1", SIG.s1], ["Sig_17", SIG.s17], ["Sig_24", SIG.s24], ["Sig_3", SIG.s3], ["Sig_5", SIG.s5], ["Sig_6", SIG.s6], ["Sig_7", SIG.s7], ["Sig_12", SIG.s12]];

export default function App() {
  const refs = useRef<(HTMLCanvasElement | null)[]>([]);
  useEffect(() => {
    const charts = CONFIGS.map((make, i) => new Chart(refs.current[i] as HTMLCanvasElement, make()));
    return () => charts.forEach((c) => c.destroy());
  }, []);
  return (
    <div style={{ position: "absolute", left: 0, top: 0, width: 670, height: 912, overflow: "hidden", background: "#fff" }}>
      {CONFIGS.map((_, i) => (
        <canvas key={i} ref={(el) => { refs.current[i] = el; }} width={670} height={912} style={{ position: "absolute", left: 0, top: 0, width: 670, height: 912 }} />
      ))}

      <T x={1} y={10} s={20} t="A" c="#111" />
      <T x={5} y={506.5} s={20} t="B" c="#111" />
      <T x={232} y={505} s={20} t="C" c="#111" />
      <T x={16} y={745} s={20} t="D" c="#111" />
      <T x={304} y={734.5} s={20} t="E" c="#111" />
      <T x={530} y={729} s={20} t="F" c="#111" />

      <T x={35} y={45} s={6} t="Alteration" c="#444" r={-90} mid />
      <T x={42} y={45} s={6} t="counts" c="#444" r={-90} mid />
      <T x={552} y={45.5} s={6} t="Frequency" c="#333" mid />
      <T x={520.7} y={423.5} s={6.5} t="Base" />
      <T x={520.7} y={431.5} s={6.5} t="substitutions" />

      {LEGEND_A.map(([title, y, items]) => (
        <React.Fragment key={title}>
          <T x={583} y={y} s={7.8} t={title} b c="#222" />
          {items.map(([t, c, iy]) => (
            <React.Fragment key={title + t}>
              <Sq x={583.3} y={iy} c={c} />
              <T x={593.7} y={iy} s={8} t={t} c="#555" />
            </React.Fragment>
          ))}
        </React.Fragment>
      ))}
      <T x={584} y={417.3} s={7.8} t="Base substitutions" b c="#222" />
      {LEGEND_SUBS.map(([t, c, sx, tx, y]) => (
        <React.Fragment key={t}>
          <Sq x={sx} y={y} c={c} />
          <T x={tx} y={y} s={8} t={t} c="#555" />
        </React.Fragment>
      ))}

      <T x={17.5} y={598} s={10} t="Ascites (n=34)" r={-90} mid />
      <T x={127} y={702} s={9.7} t="TCGA-STAD (n=290)" mid />

      {LEGEND_C.map(([t, c, sx, tx, y]) => (
        <React.Fragment key={t}>
          <Sq x={sx} y={y} s={6.8} c={c} />
          <T x={tx} y={y} s={9.3} t={t} c="#444" />
        </React.Fragment>
      ))}
      {[291, 405, 511, 615].map((x, i) => <T key={i} x={x} y={702} s={9.7} t="Frequency" mid />)}

      <T x={75.3} y={753.7} s={9.7} t="Ascites (n=34)" />
      <T x={176.3} y={754.7} s={9.7} t="TCGA-STAD (n=290)" />

      <T x={326.7} y={807} s={10} t="Contributions" r={-90} mid />
      <T x={464.3} y={760} s={8.5} t="Mutation" />
      <T x={464.3} y={771} s={8.5} t="signatures" />
      {LEGEND_E.map(([t, c], i) => (
        <React.Fragment key={t}>
          <Sq x={465} y={782.3 + i * 8.62} s={6.8} c={c} />
          <T x={474.7} y={782.3 + i * 8.62} s={7.3} t={t} c="#444" />
        </React.Fragment>
      ))}

      <T x={606.7} y={736.7} s={9.5} t="Sig_1" mid />
      <T x={612} y={752} s={6.3} t="P = 0.0122" c="#555" />
      <T x={539.3} y={811.7} s={10} t="Contributions" r={-90} mid />
    </div>
  );
}
